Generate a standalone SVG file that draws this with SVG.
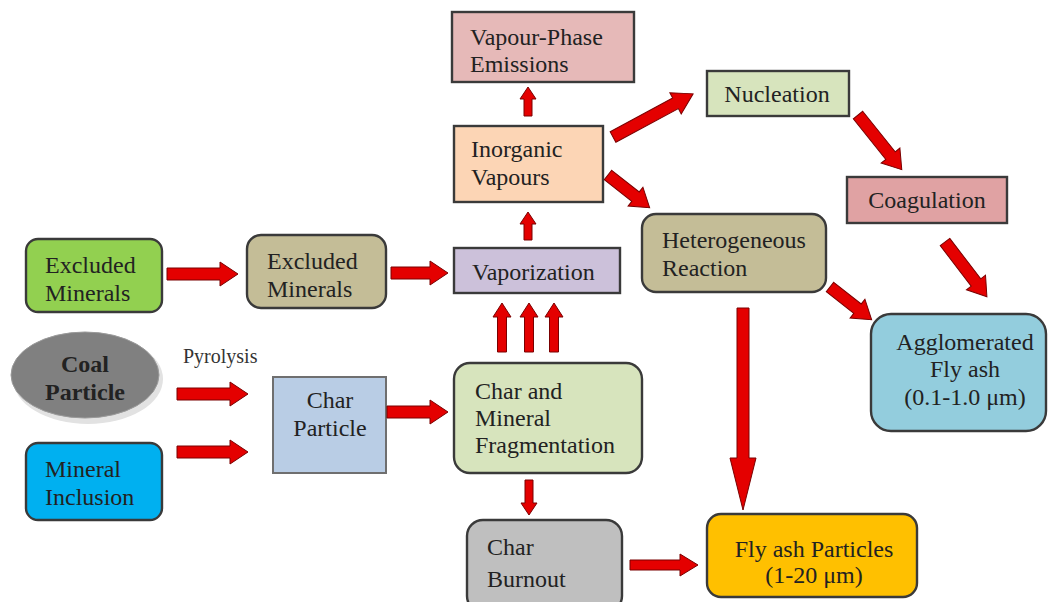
<svg xmlns="http://www.w3.org/2000/svg" width="1051" height="602" viewBox="0 0 1051 602">
<style>
.box{stroke:#3a3a3a;stroke-width:2.4}
.arrow{fill:#e40000;stroke:#7a0000;stroke-width:1}
.t{font-size:24px;fill:#222}
.c{text-anchor:middle}
</style>
<rect width="1051" height="602" fill="#ffffff"/>
<g font-family="Liberation Serif, Times New Roman, serif">
<g id="vapour-phase-emissions">
<rect class="box" x="452" y="12" width="182" height="70" fill="#e6b9b8"/>
<text class="t" x="470" y="45">Vapour-Phase</text>
<text class="t" x="470" y="72">Emissions</text>
</g>
<g id="inorganic-vapours">
<rect class="box" x="454" y="126" width="149" height="76" fill="#fcd5b5"/>
<text class="t" x="471" y="157">Inorganic</text>
<text class="t" x="471" y="185">Vapours</text>
</g>
<g id="vaporization">
<rect class="box" x="454" y="248" width="166" height="45" fill="#ccc1da"/>
<text class="t" x="472" y="280">Vaporization</text>
</g>
<g id="nucleation">
<rect class="box" x="707" y="71" width="142" height="45" fill="#d7e4bd"/>
<text class="t c" x="777" y="102">Nucleation</text>
</g>
<g id="coagulation">
<rect class="box" x="847" y="177" width="160" height="46" fill="#e0a2a3"/>
<text class="t c" x="927" y="208">Coagulation</text>
</g>
<g id="heterogeneous-reaction">
<rect class="box" x="642" y="214" width="184" height="78" rx="14" fill="#c4bd97"/>
<text class="t" x="662" y="248">Heterogeneous</text>
<text class="t" x="662" y="276">Reaction</text>
</g>
<g id="agglomerated-fly-ash">
<rect class="box" x="871" y="314" width="175" height="117" rx="20" fill="#93cddd"/>
<text class="t c" x="965" y="350">Agglomerated</text>
<text class="t c" x="965" y="377">Fly ash</text>
<text class="t c" x="965" y="405">(0.1-1.0 μm)</text>
</g>
<g id="fly-ash-particles">
<rect class="box" x="707" y="514" width="210" height="83" rx="14" fill="#ffc000"/>
<text class="t c" x="814" y="557">Fly ash Particles</text>
<text class="t c" x="814" y="583">(1-20 μm)</text>
</g>
<g id="char-mineral-fragmentation">
<rect class="box" x="454" y="363" width="188" height="110" rx="16" fill="#d7e4bd"/>
<text class="t" x="475" y="399">Char and</text>
<text class="t" x="475" y="426">Mineral</text>
<text class="t" x="475" y="453">Fragmentation</text>
</g>
<g id="char-burnout">
<rect class="box" x="467" y="520" width="155" height="92" rx="16" fill="#bfbfbf"/>
<text class="t" x="487" y="555">Char</text>
<text class="t" x="487" y="587">Burnout</text>
</g>
<g id="char-particle">
<rect x="273" y="377" width="113" height="96" fill="#b9cde5" stroke="#6f6f6f" stroke-width="2"/>
<text class="t c" x="330" y="408">Char</text>
<text class="t c" x="330" y="436">Particle</text>
</g>
<g id="excluded-minerals-1">
<rect class="box" x="26" y="239" width="136" height="73" rx="12" fill="#92d050"/>
<text class="t" x="45" y="273">Excluded</text>
<text class="t" x="45" y="301">Minerals</text>
</g>
<g id="excluded-minerals-2">
<rect class="box" x="247" y="235" width="139" height="73" rx="14" fill="#c4bd97"/>
<text class="t" x="267" y="269">Excluded</text>
<text class="t" x="267" y="297">Minerals</text>
</g>
<g id="coal-particle">
<ellipse cx="88" cy="379" rx="75" ry="45" fill="#e2e2e2"/>
<ellipse cx="85" cy="375" rx="74" ry="43" fill="#808080" stroke="#9a9a9a" stroke-width="1"/>
<text class="t c" x="85" y="372" font-weight="bold">Coal</text>
<text class="t c" x="85" y="400" font-weight="bold">Particle</text>
</g>
<g id="mineral-inclusion">
<rect class="box" x="26" y="443" width="136" height="77" rx="12" fill="#00b0f0"/>
<text class="t" x="45" y="477">Mineral</text>
<text class="t" x="45" y="505">Inclusion</text>
</g>
<g id="pyrolysis-label">
<text x="183" y="363" font-size="20" fill="#333">Pyrolysis</text>
</g>
</g>
<g id="connectors">
<polygon class="arrow" points="167,268 220,268 220,262 238,274 220,286 220,280 167,280"/>
<polygon class="arrow" points="391,267 430,267 430,261 448,273 430,285 430,279 391,279"/>
<polygon class="arrow" points="177,388 230,388 230,382 248,394 230,406 230,400 177,400"/>
<polygon class="arrow" points="177,446 230,446 230,440 248,452 230,464 230,458 177,458"/>
<polygon class="arrow" points="387,406 430,406 430,400 448,412 430,424 430,418 387,418"/>
<polygon class="arrow" points="630,560 680,560 680,554 698,565 680,576 680,570 630,570"/>
<polygon class="arrow" points="524,240 524,224 520,224 528,212 536,224 532,224 532,240"/>
<polygon class="arrow" points="524,116 524,99 520,99 528,87 536,99 532,99 532,116"/>
<polygon class="arrow" points="497.5,352 497.5,317 493,317 502,303 511,317 506.5,317 506.5,352"/>
<polygon class="arrow" points="524.5,352 524.5,317 520,317 529,303 538,317 533.5,317 533.5,352"/>
<polygon class="arrow" points="549.5,352 549.5,317 545,317 554,303 563,317 558.5,317 558.5,352"/>
<polygon class="arrow" points="525,480 525,503 521,503 529,515 537,503 533,503 533,480"/>
<polygon class="arrow" points="737,308 749,308 749,458 756,458 743,510 730,458 737,458"/>
<polygon class="arrow" transform="translate(613,137) rotate(-28.3)" points="0,-6 71,-6 71,-12 91,0 71,12 71,6 0,6"/>
<polygon class="arrow" transform="translate(608,175) rotate(38.2)" points="0,-6 35,-6 35,-12 53,0 35,12 35,6 0,6"/>
<polygon class="arrow" transform="translate(858,115) rotate(51.3)" points="0,-6 52,-6 52,-12 70,0 52,12 52,6 0,6"/>
<polygon class="arrow" transform="translate(945,242) rotate(52.6)" points="0,-6 51,-6 51,-12 69,0 51,12 51,6 0,6"/>
<polygon class="arrow" transform="translate(830,287) rotate(38.2)" points="0,-6 35,-6 35,-12 53,0 35,12 35,6 0,6"/>
</g>
</svg>
